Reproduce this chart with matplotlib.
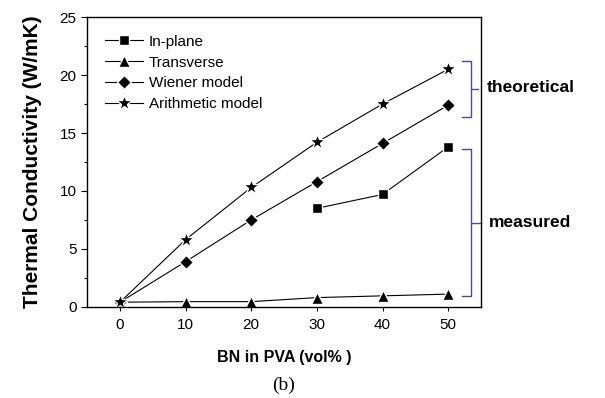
import numpy as np
import matplotlib.pyplot as plt
from matplotlib.lines import Line2D

plt.rcParams['font.family'] = ['Liberation Sans', 'DejaVu Sans']

bn = [0, 10, 20, 30, 40, 50]
in_plane_x = [30, 40, 50]
in_plane = [8.5, 9.7, 13.8]
transverse = [0.4, 0.45, 0.45, 0.8, 0.95, 1.1]
wiener = [0.4, 3.9, 7.5, 10.8, 14.1, 17.4]
arithmetic = [0.4, 5.8, 10.3, 14.2, 17.5, 20.5]

fig = plt.figure(figsize=(6.05, 3.98), dpi=100)
ax = fig.add_axes([0.144, 0.229, 0.651, 0.728])

style = dict(color='black', lw=0.8, mec='white', mew=1.0, mfc='black')
ax.plot(in_plane_x, in_plane, marker='s', ms=7, label='In-plane', **style)
ax.plot(bn, transverse, marker='^', ms=9, label='Transverse', **style)
ax.plot(bn, wiener, marker='D', ms=7, label='Wiener model', **style)
ax.plot(bn, arithmetic, marker='*', ms=12, label='Arithmetic model', **style)

ax.set_xlim(-5, 55)
ax.set_ylim(0, 25)
ax.set_xticks(bn)
ax.set_yticks(np.arange(0, 26, 5))
ax.set_yticks(np.arange(0, 25, 2.5), minor=True)
ax.tick_params(axis='y', which='major', direction='out', length=4, labelsize=11, width=0.8)
ax.tick_params(axis='y', which='minor', direction='out', length=2.5, width=0.8)
ax.tick_params(axis='x', direction='out', length=3, labelsize=11, width=0.8, pad=5)
for s in ax.spines.values():
    s.set_linewidth(1.0)

ax.set_xlabel('BN in PVA (vol% )', fontsize=11.5, fontweight='bold', labelpad=13)
ax.set_ylabel('Thermal Conductivity (W/mK)', fontsize=15, fontweight='bold', labelpad=13)

leg = ax.legend(loc='upper left', frameon=False, fontsize=11, handlelength=2.5,
                labelspacing=0.45, borderaxespad=0.75, handletextpad=0.4)

# braces on the right
bc = '#4a4aa0'
def brace(x0, x1, x2, y0, y1):
    ym = (y0 + y1) / 2
    ax.add_line(Line2D([x0, x1, x1, x0], [y0, y0, y1, y1], color=bc, lw=1.0, clip_on=False))
    ax.add_line(Line2D([x1, x2], [ym, ym], color=bc, lw=1.0, clip_on=False))

brace(52.1, 53.5, 54.5, 16.4, 21.2)
brace(52.1, 53.5, 55.0, 0.9, 13.6)

fig.text(0.805, 0.78, 'theoretical', fontsize=12.5, fontweight='bold', va='center')
fig.text(0.808, 0.44, 'measured', fontsize=12.5, fontweight='bold', va='center')
fig.text(0.468, 0.032, '(b)', fontsize=14, family='Liberation Serif', ha='center', va='center')

fig.savefig('out.png', dpi=100)
